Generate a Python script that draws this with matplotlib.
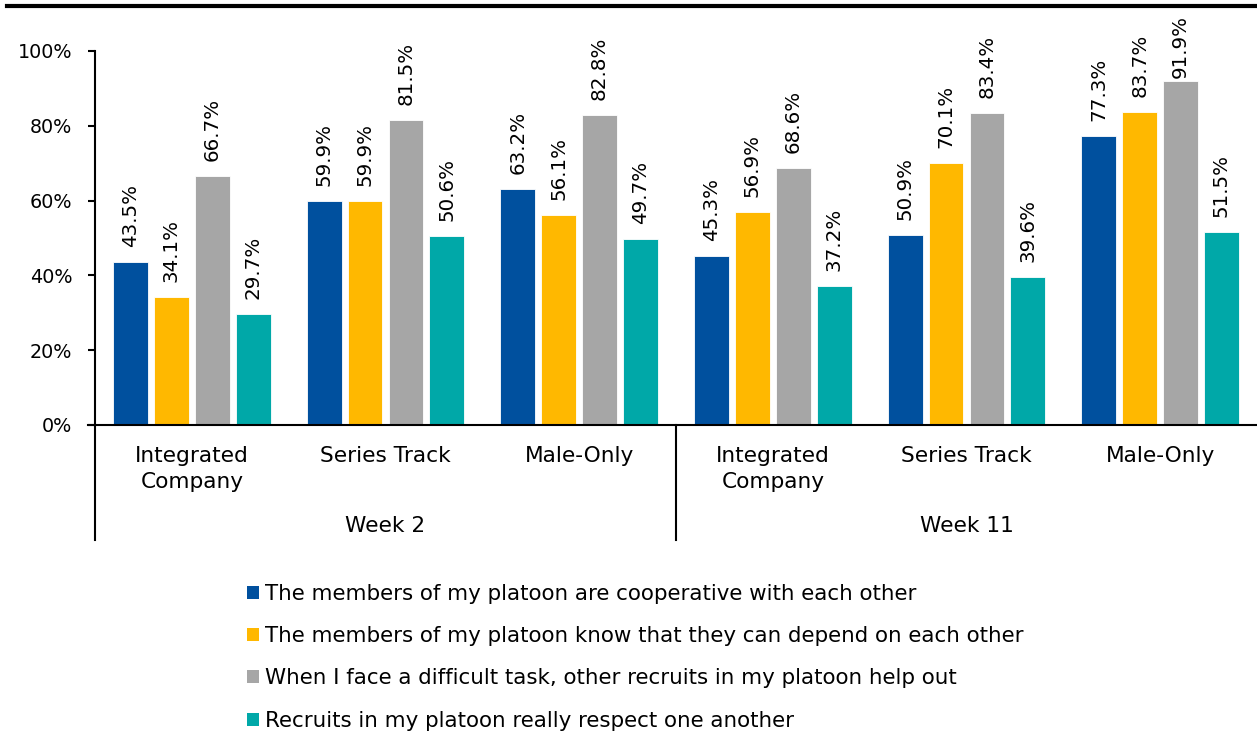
import numpy as np
import matplotlib.pyplot as plt
from matplotlib.patches import Patch
from matplotlib.lines import Line2D

plt.rcParams['font.family'] = ['DejaVu Sans']

categories = ['Integrated\nCompany', 'Series Track', 'Male-Only',
              'Integrated\nCompany', 'Series Track', 'Male-Only']
weeks = ['Week 2', 'Week 11']
series_names = [
    'The members of my platoon are cooperative with each other',
    'The members of my platoon know that they can depend on each other',
    'When I face a difficult task, other recruits in my platoon help out',
    'Recruits in my platoon really respect one another',
]
cooperative = [43.5, 59.9, 63.2, 45.3, 50.9, 77.3]
depend = [34.1, 59.9, 56.1, 56.9, 70.1, 83.7]
help_out = [66.7, 81.5, 82.8, 68.6, 83.4, 91.9]
respect = [29.7, 50.6, 49.7, 37.2, 39.6, 51.5]
colors = ['#00509E', '#FFB800', '#A6A6A6', '#00A8A8']

values = [cooperative, depend, help_out, respect]

W, H = 1257, 735
fig = plt.figure(figsize=(W / 100, H / 100), dpi=100)
ax = fig.add_axes([95 / W, 1 - 425 / H, 1 - 95 / W, (425 - 51) / H])

x = np.arange(len(categories))
step = 0.211
width = 0.18
px_per_unit = (425 - 51) / 100  # pixels per percent
for i, (vals, col) in enumerate(zip(values, colors)):
    pos = x + (i - 1.5) * step
    ax.bar(pos, vals, width, color=col, edgecolor='white', linewidth=0.6,
           label=series_names[i])
    for bx, v in zip(pos, vals):
        # labels sit ~15px above the bar, but are kept inside the chart area
        room = (425 - v * px_per_unit) - 15 - 64
        gap = max(3, min(15, room))
        ax.annotate(f'{v:.1f}%', (bx, v), xytext=(0, gap * 0.72),
                    textcoords='offset points', rotation=90, ha='center',
                    va='bottom', fontsize=14.3, annotation_clip=False)

ax.set_xlim(-0.5, len(categories) - 0.5)
ax.set_ylim(0, 100)
ax.set_yticks(range(0, 101, 20))
ax.set_yticklabels([f'{t}%' for t in range(0, 101, 20)])
ax.tick_params(axis='y', length=5, width=1.5, pad=11.5, labelsize=13.8)
ax.set_xticks([])
for s in ['top', 'right']:
    ax.spines[s].set_visible(False)
ax.spines['left'].set_linewidth(1.5)
ax.spines['bottom'].set_linewidth(1.5)
ax.spines['bottom'].set_bounds(-0.5 - 7 / 194, len(categories) - 0.5)

# category and week labels below the axis
trans = ax.get_xaxis_transform()
for xi, c in zip(x, categories):
    ax.text(xi, -0.055, c, transform=trans, ha='center', va='top',
            fontsize=15.6, linespacing=1.4)
for k, w in enumerate(weeks):
    ax.text(1 + 3 * k, -0.27, w, transform=trans, ha='center', va='center',
            fontsize=15.6)
for xs in [-0.5, 2.5]:
    ax.add_line(Line2D([xs, xs], [0, -0.308], transform=trans, color='black',
                       linewidth=1.5, clip_on=False))

# top rule
fig.add_artist(Line2D([7 / W, 1], [1 - 6 / H, 1 - 6 / H], color='black',
                      linewidth=3))

handles = [Patch(facecolor=c) for c in colors]
fig.legend(handles, series_names, loc='upper left',
           bbox_to_anchor=(247 / W, 1 - 584 / H), frameon=False,
           fontsize=15.4, handlelength=0.55, handleheight=0.55,
           handletextpad=0.3, labelspacing=1.04, borderpad=0, borderaxespad=0)

fig.savefig('out.png', dpi=100)
